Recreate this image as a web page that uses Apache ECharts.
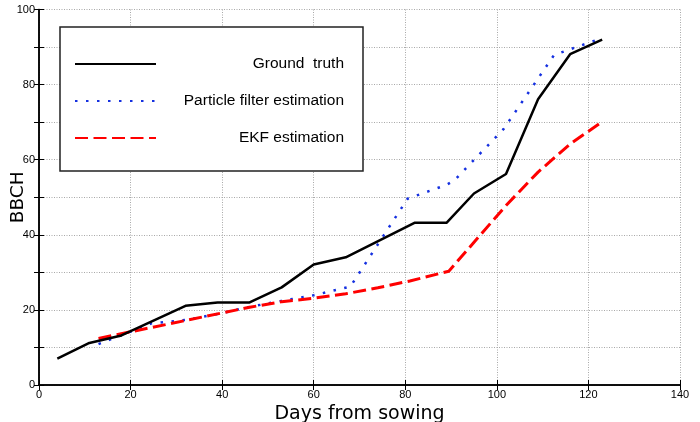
<!DOCTYPE html>
<html>
<head>
<meta charset="utf-8">
<script src="https://cdn.jsdelivr.net/npm/echarts@6/dist/echarts.min.js"></script>
<style>html,body{margin:0;padding:0;background:#fff;}#chart{width:700px;height:422px;}</style>
</head>
<body>
<div id="chart"></div>
<script>
const seriesNames = ['Ground  truth', 'Particle filter estimation', 'EKF estimation'];
const gtDays = [4, 11, 18, 32, 39, 46, 53, 60, 67, 82, 89, 95, 102, 109, 116, 123];
const gtBBCH = [7, 11.2, 13.2, 21.1, 22, 22, 26, 32.1, 34, 43.2, 43.2, 51, 56.2, 76.1, 88.1, 92];
const pfDays = [13, 20, 24.5, 32, 39, 46, 53, 60, 68, 80.5, 89, 90.8, 101.5, 112.5, 123];
const pfBBCH = [10.9, 14.2, 16.4, 17.3, 18.9, 20.8, 22.4, 23.9, 26.2, 49.6, 53.3, 54.6, 68.2, 87.9, 92.4];
const ekfDays = [13, 46, 53, 60, 67, 74, 81, 89.5, 102, 109, 116, 123];
const ekfBBCH = [12.4, 20.7, 22.2, 23.1, 24.3, 25.9, 27.7, 30.3, 47.8, 56.7, 64.2, 70.1];

const zip = (xs, ys) => xs.map((x, i) => [x, ys[i]]);
const chart = echarts.init(document.getElementById('chart'), null, {renderer: 'canvas'});
const lbl = {fontFamily: 'Liberation Sans', fontSize: 11, color: '#000'};
const split = {show: true, lineStyle: {color: '#a8a8a8', type: [1, 1.5], width: 1}};
chart.setOption({
  animation: false,
  backgroundColor: '#fff',
  grid: {left: 39, right: 20, top: 9.5, bottom: 37, containLabel: false, outerBoundsMode: 'none'},
  legend: {
    left: 60, top: 27, orient: 'vertical',
    padding: [29, 19, 25, 14],
    itemWidth: 81, itemHeight: 16, itemGap: 21,
    borderColor: '#222', borderWidth: 1.5, backgroundColor: '#fff',
    data: seriesNames,
    itemStyle: {opacity: 0},
    formatter: n => '{a|' + n + '}',
    textStyle: {rich: {a: {width: 183, align: 'right', fontFamily: 'Liberation Sans', fontSize: 15.5, color: '#000'}}}
  },
  xAxis: [{
    type: 'value', min: 0, max: 140, interval: 20,
    name: 'Days from sowing', nameLocation: 'middle', nameGap: 20, nameMoveOverlap: false,
    nameTextStyle: {fontFamily: 'DejaVu Sans', fontSize: 19, color: '#000'},
    axisLine: {show: true, lineStyle: {color: '#000', width: 1.5}},
    axisTick: {show: true, inside: true, length: 5, lineStyle: {color: '#000'}},
    axisLabel: Object.assign({margin: 4}, lbl),
    splitLine: split
  }, {
    type: 'value', min: 0, max: 140, interval: 20, position: 'top',
    axisLine: {show: true, lineStyle: {color: '#000', width: 1.5}},
    axisTick: {show: true, inside: true, length: 5, lineStyle: {color: '#000'}},
    axisLabel: {show: false}, splitLine: {show: false}
  }],
  yAxis: [{
    type: 'value', min: 0, max: 100, interval: 10,
    name: 'BBCH', nameLocation: 'middle', nameGap: 11, nameMoveOverlap: false,
    nameTextStyle: {fontFamily: 'DejaVu Sans', fontSize: 18.5, color: '#000'},
    axisLine: {show: true, lineStyle: {color: '#000', width: 1.5}},
    axisTick: {show: true, inside: true, length: 5, lineStyle: {color: '#000'}},
    axisLabel: Object.assign({margin: 4, formatter: v => (v % 20 === 0 ? String(v) : '')}, lbl),
    splitLine: split
  }, {
    type: 'value', min: 0, max: 100, interval: 10, position: 'right',
    axisLine: {show: true, lineStyle: {color: '#000', width: 1.5}},
    axisTick: {show: true, inside: true, length: 5, lineStyle: {color: '#000'}},
    axisLabel: {show: false}, splitLine: {show: false}
  }],
  series: [{
    name: seriesNames[0], type: 'line', symbol: 'none', data: zip(gtDays, gtBBCH),
    lineStyle: {color: '#000', width: 2.5}, itemStyle: {color: '#000'}, z: 3
  }, {
    name: seriesNames[1], type: 'line', symbol: 'none', data: zip(pfDays, pfBBCH),
    lineStyle: {color: '#1530e0', width: 2.5, type: [2.5, 8.5]}, itemStyle: {color: '#1530e0'}, z: 2
  }, {
    name: seriesNames[2], type: 'line', symbol: 'none', data: zip(ekfDays, ekfBBCH),
    lineStyle: {color: '#ff0000', width: 3, type: [13, 5.5]}, itemStyle: {color: '#ff0000'}, z: 2
  }]
});
</script>
</body>
</html>
